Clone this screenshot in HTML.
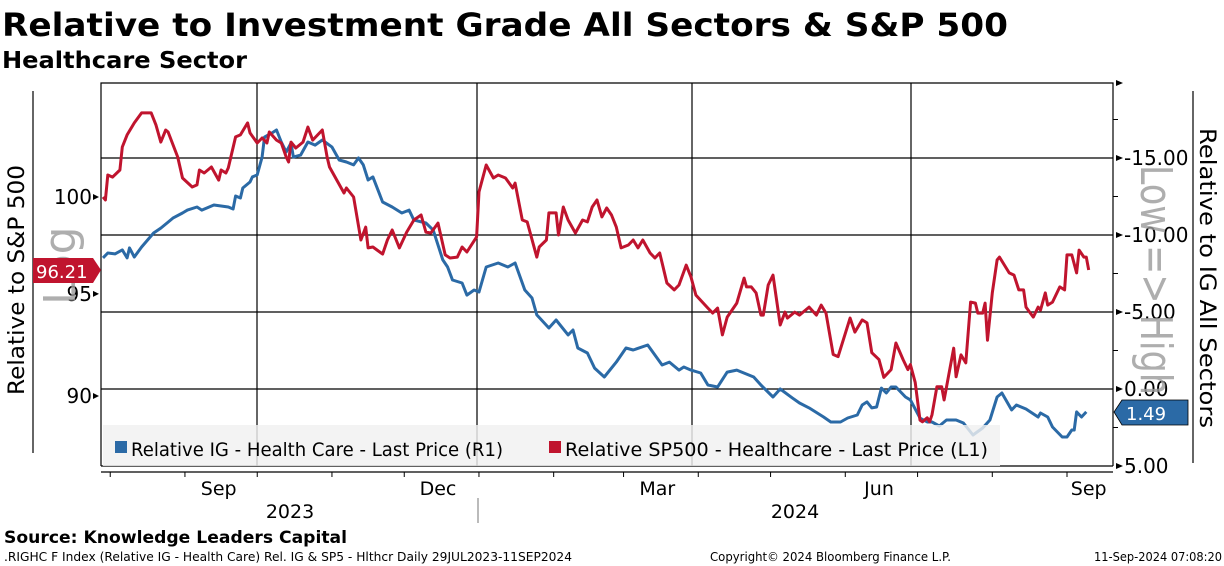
<!DOCTYPE html>
<html><head><meta charset="utf-8"><style>
body{margin:0;background:#fff;}
svg{display:block;font-family:"DejaVu Sans","Liberation Sans",sans-serif;}
</style></head><body>
<svg id="chart" width="1224" height="566" viewBox="0 0 1224 566" xmlns="http://www.w3.org/2000/svg">
<text x="2" y="36" font-size="32" font-weight="bold" textLength="1006" lengthAdjust="spacingAndGlyphs">Relative to Investment Grade All Sectors &amp; S&amp;P 500</text>
<text x="2" y="68" font-size="23" font-weight="bold" textLength="245" lengthAdjust="spacingAndGlyphs">Healthcare Sector</text>
<g id="grid"></g>
<g id="series"></g>
<g id="legend">
<rect x="103" y="425" width="897" height="41" fill="#f0f0f0" fill-opacity="0.82"/>
<rect x="115" y="441" width="12" height="12" fill="#2b6aa6"/>
<text x="131" y="456" font-size="19" textLength="372" lengthAdjust="spacingAndGlyphs">Relative IG - Health Care - Last Price (R1)</text>
<rect x="549" y="441" width="12" height="12" fill="#c0142e"/>
<text x="565" y="456" font-size="19" textLength="423" lengthAdjust="spacingAndGlyphs">Relative SP500 - Healthcare - Last Price (L1)</text>
</g>
<g id="axes"></g>
<text transform="translate(24,395) rotate(-90)" font-size="22" textLength="230" lengthAdjust="spacingAndGlyphs">Relative to S&amp;P 500</text>
<text transform="translate(75,305) rotate(-90)" font-size="44" fill="#9a9a9a" fill-opacity="0.8">Log</text>
<text transform="translate(1200,128) rotate(90)" font-size="22" textLength="300" lengthAdjust="spacingAndGlyphs">Relative to IG All Sectors</text>
<text transform="translate(1141,165) rotate(90)" font-size="44" fill="#9a9a9a" fill-opacity="0.8" textLength="230" lengthAdjust="spacingAndGlyphs">Low =&gt; High</text>
<g>
<polygon points="33,258 93,258 101,270 93,283 33,283" fill="#c0142e"/>
<text x="36" y="278" font-size="18" fill="#fff">96.21</text>
</g>
<g>
<polygon points="1122,400 1114,412 1122,425 1188,425 1188,400" fill="#2b6aa6" stroke="#000" stroke-width="0.8"/>
<text x="1126" y="420" font-size="18" fill="#fff">1.49</text>
</g>
<text x="4" y="543" font-size="17" font-weight="bold" textLength="343" lengthAdjust="spacingAndGlyphs">Source: Knowledge Leaders Capital</text>
<text x="4" y="561" font-size="12" textLength="568" lengthAdjust="spacingAndGlyphs">.RIGHC F Index (Relative IG - Health Care) Rel. IG &amp; SP5 - Hlthcr  Daily 29JUL2023-11SEP2024</text>
<text x="710" y="561" font-size="12" textLength="241" lengthAdjust="spacingAndGlyphs">Copyright© 2024 Bloomberg Finance L.P.</text>
<text x="1094" y="561" font-size="12" textLength="128" lengthAdjust="spacingAndGlyphs">11-Sep-2024 07:08:20</text>
</svg>
<script>
// Days since 29-Jul-2023
const spDays=[0,1,2,4,7,8,10,13,16,20,22,24,26,27,31,33,37,39,40,42,45,48,49,51,52,55,57,60,61,64,66,68,69,72,74,76,77,78,80,83,85,87,91,93,94,97,100,101,104,107,109,110,112,116,118,120,123,126,129,132,134,136,139,142,144,147,149,151,155,156,159,162,164,167,170,171,174,176,180,181,184,185,188,189,191,193,196,199,201,203,205,207,209,211,213,215,218,220,222,224,227,229,231,232,234,237,239,242,244,246,251,253,255,257,259,263,266,267,269,271,273,274,276,278,281,283,284,287,289,293,296,298,300,303,305,310,312,315,317,319,322,324,327,329,332,334,335,337,339,340,342,343,344,346,348,349,353,354,356,358,360,362,363,365,366,367,369,371,372,376,378,380,382,383,386,388,389,391,392,394,397,399,400,402,404,405,407,408,409];
const spValues=[100.0,99.84,101.17,101.06,101.44,102.68,103.34,104.0,104.55,104.55,103.88,102.95,103.61,103.5,102.14,101.01,100.53,100.64,101.44,101.28,101.6,100.9,101.44,101.28,101.55,103.23,103.34,104.0,103.45,102.9,103.17,102.9,103.5,103.06,102.9,102.14,101.87,102.95,102.63,102.95,103.77,103.06,103.61,102.14,101.6,100.9,100.21,100.48,100.0,97.75,98.42,97.34,97.39,97.02,97.75,98.27,97.34,98.16,98.79,99.05,98.16,98.11,98.63,96.98,96.82,96.87,97.39,97.13,97.91,100.27,101.71,101.01,101.17,101.01,100.48,100.74,98.79,98.69,96.87,97.39,97.75,99.16,99.16,98.01,99.47,98.79,98.11,98.79,98.69,99.47,99.84,98.95,99.42,99.05,98.42,97.34,97.49,97.75,97.34,97.75,97.08,96.82,97.08,96.57,95.55,95.2,95.45,96.46,95.85,94.94,94.29,94.04,94.29,92.96,93.84,94.54,95.8,95.35,95.35,95.05,93.94,93.94,95.45,95.95,93.45,94.09,93.79,94.09,93.94,94.34,93.94,94.44,94.04,92.0,91.9,93.79,93.1,93.7,93.55,92.09,91.75,90.89,91.27,92.56,91.75,91.27,91.51,90.65,88.86,88.78,88.97,88.78,89.11,90.44,90.44,89.81,92.31,90.92,91.98,91.59,94.59,94.54,94.04,94.04,94.54,92.7,95.05,96.72,96.87,96.06,95.95,95.2,95.2,94.34,93.84,94.34,94.19,95.05,94.44,94.59,95.35,95.2,96.98,96.98,96.06,97.23,96.87,96.87,96.21];
const igDays=[0,2,5,8,10,11,13,16,21,24,27,29,33,35,39,41,46,52,54,55,57,58,61,62,64,66,67,70,72,74,76,78,79,82,85,88,91,95,98,101,104,106,108,110,112,116,120,124,127,129,134,137,141,143,145,149,151,154,156,159,164,168,171,175,178,180,185,188,193,195,197,201,204,208,213,217,220,226,232,235,239,241,244,248,251,255,259,263,270,273,278,281,286,289,293,299,302,306,309,313,315,317,319,321,323,325,327,329,333,335,339,342,344,347,350,354,357,361,365,368,371,373,377,379,383,388,389,392,394,398,400,402,403,404,406,408];
const igValues=[-8.51,-8.83,-8.77,-9.03,-8.51,-9.16,-8.57,-9.22,-10.13,-10.45,-10.84,-11.1,-11.43,-11.62,-11.82,-11.62,-11.95,-11.82,-11.69,-12.53,-12.4,-13.05,-13.44,-13.77,-13.9,-15.06,-16.36,-16.62,-16.82,-16.04,-15.39,-15.97,-15.06,-15.19,-16.04,-15.84,-16.17,-15.71,-14.87,-14.74,-14.55,-15.0,-14.55,-13.57,-13.77,-12.14,-11.82,-11.43,-11.62,-10.97,-10.78,-10.32,-8.38,-7.92,-7.08,-6.88,-6.1,-6.43,-6.3,-7.92,-8.18,-7.92,-8.18,-6.43,-5.91,-4.81,-3.96,-4.48,-3.51,-3.83,-2.66,-2.34,-1.36,-0.78,-1.75,-2.66,-2.53,-2.86,-1.56,-1.75,-1.23,-1.43,-1.23,-1.04,-0.26,-0.13,-1.1,-1.23,-0.78,-0.26,0.52,0.0,0.58,0.91,1.23,1.82,2.14,2.14,1.88,1.69,1.04,0.84,1.23,1.17,-0.06,0.26,-0.13,-0.13,0.52,0.71,1.88,2.14,2.14,2.4,2.01,2.01,2.21,2.99,2.53,2.01,0.52,0.26,1.36,1.04,1.3,1.82,1.56,1.82,2.47,3.12,3.12,2.66,2.66,1.49,1.82,1.49];
const leftTicks=[100,95,90];
const leftTickLabels=["100","95","90"];
const rightTicks=[-15,-10,-5,0,5];
const rightTickLabels=["-15.00","-10.00","-5.00","0.00","5.00"];
const monthLabels=["Sep","Dec","Mar","Jun","Sep"];
const monthLabelDays=[48,139,230,322,409];
const monthTickDays=[3,34,64,95,125,156,187,216,247,277,308,338,369,400];
const yearLabels=["2023","2024"];

const NS="http://www.w3.org/2000/svg";
const X0=103, PX_PER_DAY=2.41, PL=101, PR=1113, PT=83, PB=466;
function xScale(d){return X0+d*PX_PER_DAY;}
function yLeft(v){return 197-Math.log(v/100)*1889;}
function yRight(v){return 389+v*15.4;}
function mk(tag,attrs,parent){const e=document.createElementNS(NS,tag);for(const k in attrs)e.setAttribute(k,attrs[k]);parent.appendChild(e);return e;}
const grid=document.getElementById('grid'), series=document.getElementById('series'), axes=document.getElementById('axes');

// horizontal gridlines at right-axis ticks
rightTicks.forEach(v=>{
  const l=mk('line',{x1:PL,x2:PR,y1:yRight(v),y2:yRight(v),stroke:'#000','stroke-width':1.2},grid);
  
  
});
[257,477,692,911].forEach(x=>{
  const l=mk('line',{x1:x,x2:x,y1:PT,y2:PB,stroke:'#000','stroke-width':1.2},grid);
  
  
});
// frame
const fr=mk('path',{d:`M${PL},${PB}V${PT}H${PR}V${PB}`,fill:'none',stroke:'#000','stroke-width':1.2},axes);


[257,477,692,911].forEach(x=>{mk('line',{x1:x,x2:x,y1:PT,y2:PT+5,stroke:'#000'},axes);});

function linePath(days,vals,yf){return days.map((d,i)=>(i?'L':'M')+xScale(d).toFixed(1)+','+yf(vals[i]).toFixed(1)).join('');}
const ig=mk('path',{d:linePath(igDays,igValues,yRight),fill:'none',stroke:'#2b6aa6','stroke-width':3,'stroke-linejoin':'round'},series);


const sp=mk('path',{d:linePath(spDays,spValues,yLeft),fill:'none',stroke:'#c0142e','stroke-width':3,'stroke-linejoin':'round'},series);



// left axis
mk('line',{x1:33,x2:33,y1:91,y2:453,stroke:'#000','stroke-width':1.2},axes);
leftTicks.forEach((v,i)=>{
  const y=yLeft(v);
  mk('polygon',{points:`${PL-2},${y} ${PL-8},${y-3} ${PL-8},${y+3}`,fill:'#000'},axes);
  const t=mk('text',{x:PL-9,y:y+7,'font-size':20,'text-anchor':'end'},axes);
  t.textContent=leftTickLabels[i];
  
  
});
// right axis
mk('line',{x1:1193,x2:1193,y1:91,y2:463,stroke:'#000','stroke-width':1.2},axes);
rightTicks.forEach((v,i)=>{
  const y=yRight(v);
  mk('polygon',{points:`${PR+10},${y} ${PR+3},${y-3} ${PR+3},${y+3}`,fill:'#000'},axes);
  const t=mk('text',{x:PR+11,y:y+7,'font-size':20},axes);
  t.textContent=rightTickLabels[i];
  
  
});
mk('polygon',{points:`${PR+10},${PT} ${PR+3},${PT-3} ${PR+3},${PT+3}`,fill:'#000'},axes);
[-17.5,-12.5,-7.5,-2.5,2.5].forEach(v=>{mk('line',{x1:PR,x2:PR+5,y1:yRight(v),y2:yRight(v),stroke:'#000'},axes);});
// x axis
mk('line',{x1:PL,x2:PR,y1:472,y2:472,stroke:'#000','stroke-width':1.2},axes);
monthTickDays.forEach(d=>{mk('line',{x1:xScale(d),x2:xScale(d),y1:472,y2:477,stroke:'#000'},axes);});
monthLabels.forEach((m,i)=>{
  const t=mk('text',{x:xScale(monthLabelDays[i]),y:495,'font-size':19,'text-anchor':'middle'},axes);
  t.textContent=m;
  
  
});
mk('line',{x1:478,x2:478,y1:498,y2:523,stroke:'#777'},axes);
[[290,yearLabels[0]],[795,yearLabels[1]]].forEach(p=>{
  const t=mk('text',{x:p[0],y:518,'font-size':19,'text-anchor':'middle'},axes);
  t.textContent=p[1];
  
  
});
// legend above series
document.getElementById('chart').insertBefore(document.getElementById('legend'),axes);
</script>
</body></html>
